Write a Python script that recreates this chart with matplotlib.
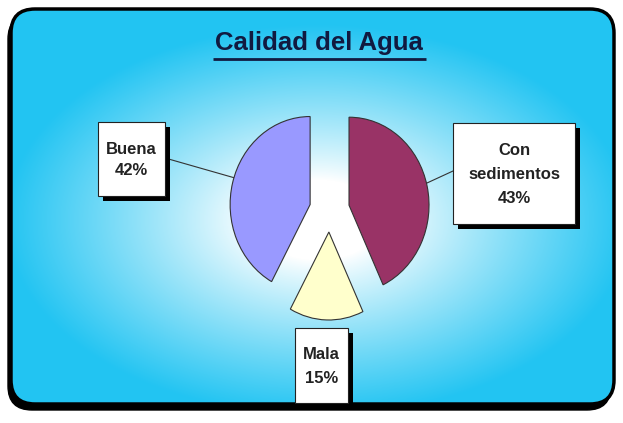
import numpy as np
import matplotlib
matplotlib.use("Agg")
from matplotlib import pyplot as plt
from matplotlib.patches import FancyBboxPatch, Rectangle

plt.rcParams["font.family"] = ["Liberation Sans", "DejaVu Sans"]

title = "Calidad del Agua"
names = ["Con\nsedimentos", "Mala", "Buena"]
shares = [43, 15, 42]
colors = ["#993366", "#FFFFCC", "#9999FF"]

W, H = 623, 423
fig = plt.figure(figsize=(W / 100, H / 100), dpi=100)
bg = fig.add_axes([0, 0, 1, 1])
bg.set_xlim(0, W)
bg.set_ylim(H, 0)
bg.axis("off")

# frame with drop shadow
x0, y0, x1, y1 = 11, 9, 614, 404
shadow = FancyBboxPatch((x0 - 3, y0 + 6), x1 - x0, y1 - y0,
                        boxstyle="round,pad=0,rounding_size=24",
                        fc="black", ec="black", lw=1, zorder=1)
bg.add_patch(shadow)
frame = FancyBboxPatch((x0, y0), x1 - x0, y1 - y0,
                       boxstyle="round,pad=0,rounding_size=24",
                       fc="none", ec="black", lw=2.5, zorder=3)
bg.add_patch(frame)

# radial white -> cyan fill
gx, gy = np.meshgrid(np.linspace(0, W, W), np.linspace(0, H, H))
r = np.sqrt(((gx - 318) / 320) ** 2 + ((gy - 220) / 200) ** 2)
s = np.clip((r - 0.2) / 0.78, 0, 1) ** 0.9
edge = np.array([34, 196, 242]) / 255
img = (1 - s[..., None]) * np.ones(3) + s[..., None] * edge
im = bg.imshow(img, extent=(0, W, H, 0), origin="upper", zorder=2,
               interpolation="bilinear")
im.set_clip_path(frame)

# title
bg.text(319, 43, title, ha="center", va="center", fontsize=18.5,
        fontweight="bold", color="#111a40", zorder=5)
bg.plot([213, 426], [59, 59], color="#111a40", lw=2, zorder=5,
        solid_capstyle="butt")

# pie (slightly taller than wide)
cx, cy, rx, ry = 329.5, 210, 80, 88
pax = fig.add_axes([(cx - 1.5 * rx) / W, (H - cy - 1.5 * ry) / H,
                    3 * rx / W, 3 * ry / H])
pax.pie(shares, colors=colors, startangle=90, counterclock=False,
        explode=[0.25] * len(shares),
        wedgeprops=dict(edgecolor="#333333", linewidth=0.8))
pax.set_aspect("auto")
pax.set_xlim(-1.5, 1.5)
pax.set_ylim(-1.5, 1.5)
pax.axis("off")
pax.patch.set_visible(False)

# leader lines
bg.plot([165, 235], [158, 178], color="#333333", lw=0.8, zorder=5)
bg.plot([453, 427], [171, 183], color="#333333", lw=0.8, zorder=5)

# label boxes
boxes = {
    "Con\nsedimentos": ((453, 123, 575, 224), 1.75),
    "Mala": ((295, 328, 348, 403), 1.75),
    "Buena": ((98, 122, 165, 196), 1.5),
}
for name, share in zip(names, shares):
    (bx0, by0, bx1, by1), ls = boxes[name]
    bg.add_patch(Rectangle((bx0 + 5, by0 + 5), bx1 - bx0, by1 - by0,
                           fc="black", ec="none", zorder=6))
    bg.add_patch(Rectangle((bx0, by0), bx1 - bx0, by1 - by0,
                           fc="white", ec="#222222", lw=0.8, zorder=7))
    bg.text((bx0 + bx1) / 2, (by0 + by1) / 2 + 1, f"{name}\n{share}%",
            ha="center", va="center", fontsize=12, fontweight="bold",
            color="#222222", linespacing=ls, zorder=8)

fig.savefig("out.png", dpi=100)
